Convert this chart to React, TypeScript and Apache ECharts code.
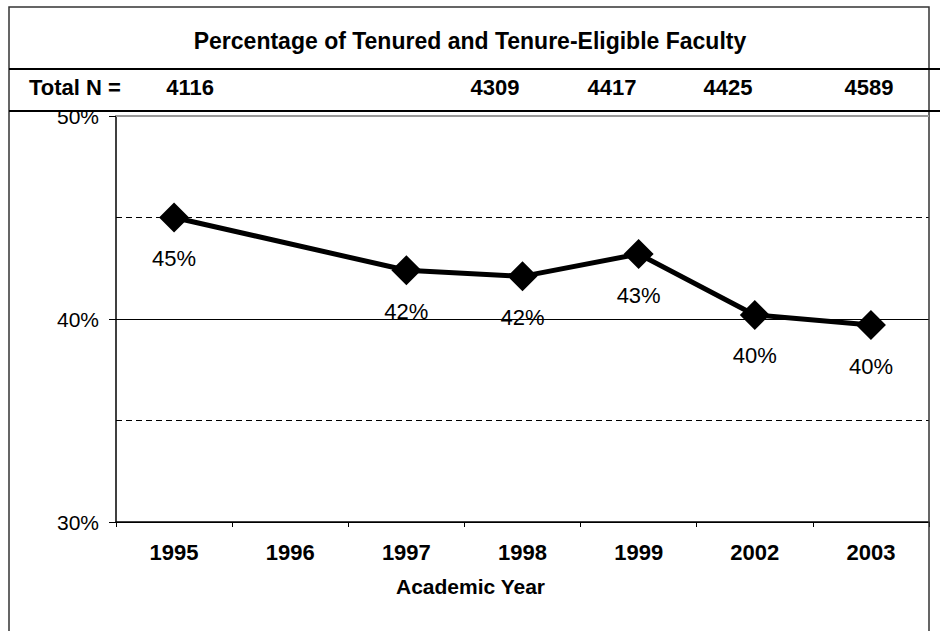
import React, { useEffect, useRef } from "react";
import * as echarts from "echarts";

const titleText = "Percentage of Tenured and Tenure-Eligible Faculty";
const years = ["1995", "1996", "1997", "1998", "1999", "2002", "2003"];
const pctValues: (number | null)[] = [45.0, null, 42.4, 42.1, 43.2, 40.2, 39.7];
const totalNLabel = "Total N =";
const totalN = [4116, 4309, 4417, 4425, 4589];
const yTicks = [30, 40, 50];
const xAxisName = "Academic Year";

// layout (not data): horizontal centers of the Total N cells
const totalNX = [190, 495, 612, 728, 869];

const FONT = "'Liberation Sans', Arial, sans-serif";

export default function App() {
  const ref = useRef<HTMLDivElement>(null);
  useEffect(() => {
    if (!ref.current) return;
    const chart = echarts.init(ref.current, null, { renderer: "svg" });
    const graphics: any[] = [
      {
        type: "rect",
        shape: { x: 9, y: 7, width: 920, height: 660 },
        style: { fill: "none", stroke: "#333", lineWidth: 1.5 },
        silent: true,
        z: 10,
      },
      {
        type: "line",
        shape: { x1: 9, y1: 69, x2: 940, y2: 69 },
        style: { stroke: "#000", lineWidth: 2 },
        z: 10,
      },
      {
        type: "line",
        shape: { x1: 9, y1: 111, x2: 940, y2: 111 },
        style: { stroke: "#000", lineWidth: 2 },
        z: 10,
      },
      {
        type: "line",
        shape: { x1: 116, y1: 116, x2: 929, y2: 116 },
        style: { stroke: "#999", lineWidth: 2 },
        z: 10,
      },
      {
        type: "text",
        x: 470,
        y: 41,
        style: {
          text: titleText,
          font: `bold 23px ${FONT}`,
          fill: "#000",
          align: "center",
          verticalAlign: "middle",
        },
      },
      {
        type: "text",
        x: 29,
        y: 87,
        style: {
          text: totalNLabel,
          font: `bold 22px ${FONT}`,
          fill: "#000",
          align: "left",
          verticalAlign: "middle",
        },
      },
      ...totalN.map((n, i) => ({
        type: "text",
        x: totalNX[i],
        y: 87,
        style: {
          text: String(n),
          font: `bold 22px ${FONT}`,
          fill: "#000",
          align: "center",
          verticalAlign: "middle",
        },
      })),
    ];

    chart.setOption({
      animation: false,
      backgroundColor: "#fff",
      textStyle: { fontFamily: FONT },
      grid: { left: 116, right: 11, top: 116, bottom: 109, containLabel: false },
      graphic: graphics,
      xAxis: {
        type: "category",
        data: years,
        boundaryGap: true,
        axisLine: { lineStyle: { color: "#000", width: 1.5 } },
        axisTick: { show: true, length: 5, lineStyle: { color: "#000" } },
        axisLabel: {
          color: "#000",
          fontSize: 22,
          fontWeight: "bold",
          margin: 19,
          fontFamily: FONT,
        },
        name: xAxisName,
        nameLocation: "middle",
        nameGap: 54,
        nameTextStyle: {
          color: "#000",
          fontSize: 21,
          fontWeight: "bold",
          fontFamily: FONT,
          padding: [0, 104, 0, 0],
        },
      },
      yAxis: {
        type: "value",
        min: yTicks[0],
        max: yTicks[yTicks.length - 1],
        interval: 10,
        axisLine: { show: true, lineStyle: { color: "#000", width: 1.5 } },
        axisTick: { show: true, length: 7, lineStyle: { color: "#000" } },
        axisLabel: {
          color: "#000",
          fontSize: 21,
          margin: 17,
          formatter: "{value}%",
          fontFamily: FONT,
        },
        splitLine: { show: true, lineStyle: { color: "#000", width: 1 } },
        minorTick: { show: false, splitNumber: 2 },
        minorSplitLine: {
          show: true,
          lineStyle: { color: "#000", width: 1, type: [6, 4] },
        },
      },
      series: [
        {
          type: "line",
          data: pctValues,
          connectNulls: true,
          symbol: "diamond",
          symbolSize: [30, 30],
          itemStyle: { color: "#000" },
          lineStyle: { color: "#000", width: 5 },
          label: {
            show: true,
            position: "bottom",
            distance: 15,
            color: "#000",
            fontSize: 22,
            fontFamily: FONT,
            formatter: (p: any) => `${Math.round(p.value)}%`,
          },
        },
      ],
    });
    return () => chart.dispose();
  }, []);
  return <div ref={ref} style={{ width: 940, height: 631, position: "absolute", left: 0, top: 0 }} />;
}
